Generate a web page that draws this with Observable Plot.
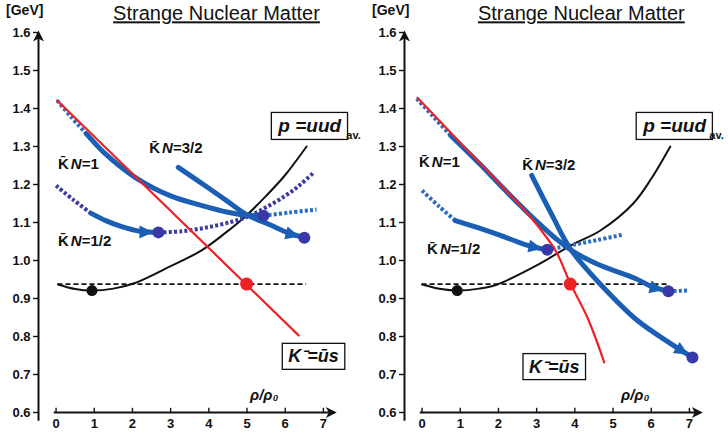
<!DOCTYPE html>
<html><head><meta charset="utf-8">
<script src="https://cdn.jsdelivr.net/npm/d3@7"></script>
<script src="https://cdn.jsdelivr.net/npm/@observablehq/plot@0.6"></script>
<style>
html,body{margin:0;padding:0;background:#fff;}
#wrap{display:flex;width:728px;height:434px;overflow:hidden;}
#wrap svg{flex:none;}
</style></head><body><div id="wrap"></div>
<script>
// ---------- shared values ----------
const xTicks = [0, 1, 2, 3, 4, 5, 6, 7];
const yTicks = [0.6, 0.7, 0.8, 0.9, 1.0, 1.1, 1.2, 1.3, 1.4, 1.5, 1.6];
const nucleonMass = 0.938;
const titleText = "Strange Nuclear Matter";
const unitText = "[GeV]";
const xLabelText = "ρ/ρ₀";
const protonText = "p =uud";
const avText = "av.";
const kaonText = "K⁻=ūs";
const knTexts = ["K̄N=1", "K̄N=3/2", "K̄N=1/2"];

// ---------- left panel values ([ρ/ρ0, GeV]) ----------
const L_red = [[0.03, 1.421], [6.35, 0.803]];
const L_redDot = [[4.99, 0.938]];
const L_black = [[0.05, 0.937], [0.5, 0.925], [0.94, 0.921], [1.5, 0.926], [2.05, 0.94], [3.0, 0.985], [3.8, 1.026], [4.4, 1.07], [5.0, 1.12], [5.5, 1.17], [6.0, 1.225], [6.56, 1.30]];
const L_blackDot = [[0.94, 0.921]];
const L_dashRange = [0.05, 6.56];
const L_kn1Lead = [[0.03, 1.421], [0.4, 1.377], [0.79, 1.334]];
const L_kn1 = [[0.79, 1.334], [1.3, 1.28], [2.1, 1.217], [3.0, 1.17], [3.8, 1.145], [4.5, 1.127], [5.0, 1.119], [5.43, 1.118]];
const L_kn1Tail = [[5.43, 1.118], [6.1, 1.126], [6.82, 1.134]];
const L_kn32 = [[3.2, 1.245], [4.0, 1.19], [4.5, 1.155], [5.0, 1.12], [5.6, 1.094], [6.1, 1.072], [6.5, 1.06]];
const L_kn12Lead = [[0.0, 1.197], [0.45, 1.16], [0.92, 1.124]];
const L_kn12 = [[0.92, 1.124], [1.3, 1.105], [1.7, 1.09], [2.2, 1.077], [2.68, 1.074]];
const L_kn12Tail = [[2.68, 1.074], [3.3, 1.077], [4.0, 1.088], [4.6, 1.102], [5.0, 1.115], [5.5, 1.14], [6.0, 1.17], [6.4, 1.2], [6.75, 1.232]];
const L_endDots = [[2.68, 1.074], [5.43, 1.118], [6.5, 1.06]];

// ---------- right panel values ----------
const R_red = [[-0.12, 1.428], [1.0, 1.31], [2.0, 1.205], [2.85, 1.113], [3.5, 1.025], [3.88, 0.94], [4.33, 0.85], [4.77, 0.732]];
const R_redDot = [[3.88, 0.938]];
const R_black = [[0, 0.937], [0.5, 0.925], [0.92, 0.921], [1.5, 0.926], [1.97, 0.937], [3.0, 0.987], [3.9, 1.04], [4.67, 1.079], [5.53, 1.15], [6.0, 1.215], [6.5, 1.30]];
const R_blackDot = [[0.92, 0.921]];
const R_dashRange = [0, 6.48];
const R_kn1Lead = [[-0.14, 1.426], [0.3, 1.378], [0.75, 1.329]];
const R_kn1 = [[0.75, 1.329], [1.5, 1.255], [2.0, 1.203], [2.5, 1.152], [3.0, 1.103], [3.5, 1.058], [3.92, 1.026], [4.6, 0.99], [5.6, 0.952], [6.0, 0.932], [6.45, 0.919]];
const R_kn1Tail = [[6.45, 0.919], [6.96, 0.921]];
const R_kn32 = [[2.87, 1.224], [3.4, 1.12], [3.9, 1.028], [4.75, 0.929], [5.64, 0.842], [6.5, 0.782], [7.08, 0.745]];
const R_kn12Lead = [[0, 1.184], [0.45, 1.142], [0.87, 1.105]];
const R_kn12 = [[0.87, 1.105], [1.44, 1.087], [2.05, 1.066], [2.7, 1.042], [3.28, 1.028]];
const R_kn12Tail = [[3.28, 1.028], [4.0, 1.042], [4.6, 1.054], [5.25, 1.068]];
const R_endDots = [[3.28, 1.028], [6.45, 0.919], [7.08, 0.745]];

// ---------- helpers ----------
const pts = arr => arr.map(([x, y]) => ({x, y}));
const series = list => list.flatMap(([name, arr]) => arr.map(([x, y]) => ({x, y, s: name})));

const BLUE = "#1b5fb5", DOTBLUE = "#2c6cc0", PURPLE = "#3b3ba0", RED = "#ec2227", DOTFILL = "#3838a8", INK = "#111";
const FONT = "'Liberation Sans', Arial, Helvetica, sans-serif";

const panels = [
  {
    id: "L", ml: 38, mr: 22,
    red: L_red, redDot: L_redDot, black: L_black, blackDot: L_blackDot, dash: L_dashRange,
    dotBlue: [["kn1lead", L_kn1Lead], ["kn1tail", L_kn1Tail]],
    dotPurple: [["kn12lead", L_kn12Lead], ["kn12tail", L_kn12Tail]],
    solid: [["kn1", L_kn1]],
    arrowed: [["kn12", L_kn12], ["kn32", L_kn32]],
    endDots: L_endDots,
    pos: {title: [4.2, 1.632], unit: [-1.31, 1.647], kn: [[0.05, 1.242], [2.44, 1.282], [0.05, 1.039]],
          proton: [5.82, 1.337], av: [7.6, 1.321], kaon: [6.08, 0.732], xlab: [5.45, 0.632]}
  },
  {
    id: "R", ml: 40, mr: 20,
    red: R_red, redDot: R_redDot, black: R_black, blackDot: R_blackDot, dash: R_dashRange,
    dotBlue: [["kn1lead", R_kn1Lead], ["kn1tail", R_kn1Tail], ["kn12lead", R_kn12Lead], ["kn12tail", R_kn12Tail]],
    dotPurple: [],
    solid: [],
    arrowed: [["kn1", R_kn1], ["kn32", R_kn32], ["kn12", R_kn12]],
    endDots: R_endDots,
    pos: {title: [4.17, 1.632], unit: [-1.31, 1.647], kn: [[-0.08, 1.245], [2.62, 1.237], [0.13, 1.016]],
          proton: [5.79, 1.337], av: [7.52, 1.321], kaon: [2.8, 0.705], xlab: [5.58, 0.632]}
  }
];

const X0 = -0.46;

function label(t, p, opts) {
  return Plot.text([t], {x: p[0], y: p[1], text: d => d, lineAnchor: "bottom", fill: INK, ...opts});
}

function draw(P) {
  const line = (data, opts) => Plot.line(data, {x: "x", y: "y", curve: "catmull-rom", ...opts});
  const svg = Plot.plot({
    width: 364, height: 434,
    marginLeft: P.ml, marginRight: P.mr, marginTop: 32, marginBottom: 22,
    x: {domain: [X0, 7.5]},
    y: {domain: [0.6, 1.6]},
    style: {fontFamily: FONT, background: "transparent", overflow: "visible", color: INK},
    marks: [
      // axes
      Plot.axisY(yTicks, {anchor: "left", tickSize: 5, tickPadding: 3, fontSize: 13, fontWeight: "bold", label: null, tickFormat: d3.format(".1f"), strokeWidth: 1.4}),
      Plot.axisX(xTicks, {anchor: "bottom", tickSize: 0, tickPadding: 6, fontSize: 13, fontWeight: "bold", label: null}),
      Plot.ruleX(xTicks, {x: d => d, y1: 0.6, y2: 0.611, stroke: INK, strokeWidth: 1.4}),
      Plot.link([0], {x1: X0, x2: X0, y1: 0.578, y2: 1.592, stroke: INK, strokeWidth: 2, ariaDescription: "axisline"}),
      Plot.link([0], {x1: -0.06, x2: 7.22, y1: 0.6, y2: 0.6, stroke: INK, strokeWidth: 2, ariaDescription: "axisline"}),
      // reference level
      Plot.ruleY([nucleonMass], {x1: P.dash[0], x2: P.dash[1], stroke: INK, strokeWidth: 1.8, strokeDasharray: "5,3"}),
      // proton
      line(pts(P.black), {stroke: INK, strokeWidth: 2}),
      // dotted continuations
      line(series(P.dotPurple), {z: "s", stroke: PURPLE, strokeWidth: 4, strokeDasharray: "3,2.2", strokeLinecap: "butt"}),
      line(series(P.dotBlue), {z: "s", stroke: DOTBLUE, strokeWidth: 4, strokeDasharray: "3,2.2", strokeLinecap: "butt"}),
      // K̄N trajectories
      line(series(P.solid), {z: "s", stroke: BLUE, strokeWidth: 5, strokeLinecap: "round"}),
      line(series(P.arrowed), {z: "s", stroke: BLUE, strokeWidth: 5, strokeLinecap: "round", ariaDescription: "arrowcurve"}),
      // K-
      line(pts(P.red), {stroke: RED, strokeWidth: 2.2}),
      // dots
      Plot.dot(pts(P.blackDot), {x: "x", y: "y", r: 5.5, fill: INK}),
      Plot.dot(pts(P.redDot), {x: "x", y: "y", r: 6.5, fill: RED}),
      Plot.dot(pts(P.endDots), {x: "x", y: "y", r: 6, fill: DOTFILL}),
      // texts
      label(titleText, P.pos.title, {textAnchor: "middle", fontSize: 20, ariaDescription: "title"}),
      label(unitText, P.pos.unit, {textAnchor: "start", fontSize: 14, fontWeight: "bold"}),
      ...knTexts.map((t, i) => label(t, P.pos.kn[i], {textAnchor: "start", fontSize: 15, fontWeight: "bold", ariaDescription: "kn"})),
      label(protonText, P.pos.proton, {textAnchor: "start", fontSize: 19, fontWeight: "bold", fontStyle: "italic", ariaDescription: "boxed"}),
      label(avText, P.pos.av, {textAnchor: "start", fontSize: 11, fontWeight: "bold"}),
      label(kaonText, P.pos.kaon, {textAnchor: "start", fontSize: 18, fontWeight: "bold", fontStyle: "italic", ariaDescription: "boxed"}),
      label(xLabelText, P.pos.xlab, {textAnchor: "middle", fontSize: 15, fontWeight: "bold", fontStyle: "italic"})
    ]
  });
  document.getElementById("wrap").appendChild(svg);
  finish(svg, P.id);
}

function finish(svg, id) {
  const s = d3.select(svg);
  const defs = s.insert("defs", ":first-child");
  const ah = defs.append("marker").attr("id", id + "-ah")
    .attr("viewBox", "-22 -9 26 18").attr("markerWidth", 26).attr("markerHeight", 18)
    .attr("refX", 0).attr("refY", 0).attr("orient", "auto").attr("markerUnits", "userSpaceOnUse")
    .style("overflow", "visible");
  ah.append("path").attr("d", "M-5,0L-19,-6.5L-19,6.5Z").attr("fill", BLUE);
  const ax = defs.append("marker").attr("id", id + "-ax")
    .attr("viewBox", "-12 -8 18 16").attr("markerWidth", 18).attr("markerHeight", 16)
    .attr("refX", 0).attr("refY", 0).attr("orient", "auto").attr("markerUnits", "userSpaceOnUse")
    .style("overflow", "visible");
  ax.append("path").attr("d", "M5,0L-6,-5.5L-3,0L-6,5.5Z").attr("fill", INK);

  const grp = name => s.selectAll(`[aria-description="${name}"]`);

  grp("arrowcurve").selectAll("path").attr("marker-end", `url(#${id}-ah)`);
  grp("axisline").selectAll("path, line").attr("marker-end", `url(#${id}-ax)`);

  s.selectAll('g[aria-label$="tick label"]').attr("font-weight", "bold").selectAll("text").attr("font-weight", "bold");

  grp("title").selectAll("text").style("text-decoration", "underline");

  grp("kn").selectAll("text").each(function () {
    const t = this.textContent;
    const sel = d3.select(this);
    sel.text(null);
    sel.append("tspan").text(t.slice(0, 2));
    sel.append("tspan").attr("dx", 2).attr("font-style", "italic").text(t.slice(2, 3));
    sel.append("tspan").text(t.slice(3));
  });

  grp("boxed").selectAll("text").each(function () {
    const b = this.getBBox();
    const r = document.createElementNS("http://www.w3.org/2000/svg", "rect");
    const padX = 6, padY = 3;
    r.setAttribute("x", b.x - padX);
    r.setAttribute("y", b.y - padY);
    r.setAttribute("width", b.width + 2 * padX);
    r.setAttribute("height", b.height + 2 * padY);
    r.setAttribute("fill", "#fff");
    r.setAttribute("stroke", INK);
    r.setAttribute("stroke-width", 1.3);
    const tr = this.getAttribute("transform");
    if (tr) r.setAttribute("transform", tr);
    this.parentNode.insertBefore(r, this);
  });
}

panels.forEach(draw);
</script>
</body></html>
